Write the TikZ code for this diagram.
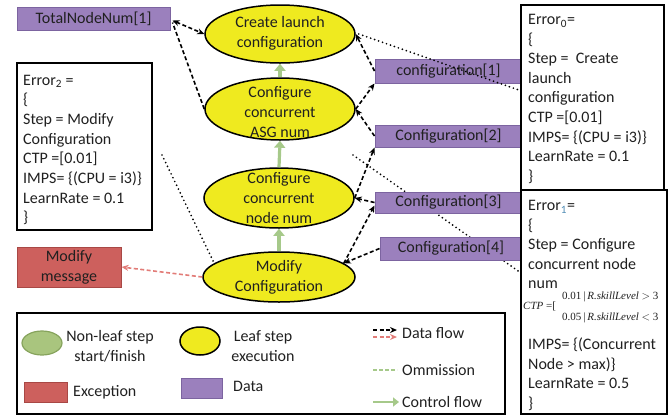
\documentclass[tikz,border=0pt]{standalone}
\usepackage{fontspec}
\setmainfont{Carlito}
\newfontfamily\formulafont{Liberation Serif}
\usetikzlibrary{arrows.meta,shapes.geometric,calc}

\definecolor{datafill}{HTML}{9B80BD}
\definecolor{dataedge}{HTML}{7C64A0}
\definecolor{excfill}{HTML}{CD605D}
\definecolor{excedge}{HTML}{A84845}
\definecolor{leaffill}{HTML}{EFEA1F}
\definecolor{startfill}{HTML}{A9C57E}
\definecolor{startedge}{HTML}{86A35C}
\definecolor{ctrlgreen}{HTML}{A6C98A}
\definecolor{exflow}{HTML}{E27C78}
\definecolor{subblue}{HTML}{4F8CB5}
\definecolor{ink}{HTML}{202020}

\begin{document}
\begin{tikzpicture}[x=1pt,y=-1pt,
  font=\fontsize{16}{20}\selectfont, text=ink,
  leaf/.style={ellipse, draw=black, line width=1.5pt, fill=leaffill, inner sep=0pt},
  nonleaf/.style={ellipse, draw=startedge, line width=1.2pt, fill=startfill, inner sep=0pt},
  datbox/.style={rectangle, draw=dataedge, line width=1pt, fill=datafill, inner sep=0pt},
  excbox/.style={rectangle, draw=excedge, line width=1pt, fill=excfill, inner sep=0pt},
  infobox/.style={rectangle, draw=black, line width=1.6pt, fill=white, inner sep=0pt},
  legendbox/.style={rectangle, draw=black, line width=1.6pt, inner sep=0pt},
  infoline/.style={anchor=base west, inner sep=0pt},
  steptext/.style={align=center, inner sep=0pt},
  dataflow/.style={draw=black, line width=1.6pt, dash pattern=on 4pt off 2.5pt,
    -{Stealth[length=7pt,width=6pt]}},
  twoway/.style={draw=black, line width=1.6pt, dash pattern=on 4pt off 2.5pt,
    {Stealth[length=7pt,width=6pt]}-{Stealth[length=7pt,width=6pt]}},
  excflow/.style={draw=exflow, line width=1.6pt, dash pattern=on 4pt off 2.5pt,
    -{Stealth[length=7pt,width=6pt]}},
  ctrlflow/.style={draw=ctrlgreen, line width=3.2pt, -{Triangle[length=7pt,width=11pt]}},
  omission/.style={draw=ctrlgreen, line width=2.6pt, dash pattern=on 4pt off 2pt},
  relation/.style={draw=black, line width=1.9pt, line cap=round, dash pattern=on 0pt off 4.2pt}
]
\useasboundingbox (0,0) rectangle (670,418);

% leaf steps
\node[leaf, minimum width=150, minimum height=58] (E1) at (280,34) {};
\node[leaf, minimum width=150, minimum height=62] (E2) at (280,109) {};
\node[leaf, minimum width=150, minimum height=60] (E3) at (279,198) {};
\node[leaf, minimum width=152, minimum height=50] (E4) at (279,277) {};
\node[steptext] (T1) at ($(E1.center)+(0,-1)$) {Create launch\\configuration};
\node[steptext] (T2) at ($(E2.center)+(0,3)$) {Configure\\concurrent\\ASG num};
\node[steptext] (T3) at (E3.center) {Configure\\concurrent\\node num};
\node[steptext] (T4) at (E4.center) {Modify\\Configuration};

% control flow between steps
\draw[ctrlflow] (E2.north) -- (E1.south);
\draw[ctrlflow] (E3.north) -- (E2.south);
\draw[ctrlflow] (E4.north) -- (E3.south);

% relation running behind the data items
\coordinate (dotA) at (353,155);
\coordinate (dotB) at (521,273);
\draw[relation] (dotA) -- (dotB);

% data items
\node[datbox, minimum width=153, minimum height=23] (TNN) at (93.5,18.5) {TotalNodeNum[1]};
\node[datbox, minimum width=147, minimum height=24] (C1) at (448.5,71) {configuration[1]};
\node[datbox, minimum width=147, minimum height=22] (C2) at (448.5,136) {Configuration[2]};
\node[datbox, minimum width=147, minimum height=21] (C3) at (448.5,202.5) {Configuration[3]};
\node[datbox, minimum width=142, minimum height=23] (C4) at (451,248.5) {Configuration[4]};

% exception
\node[excbox, minimum width=104, minimum height=40, align=center] (MM) at (69,267) {Modify\\message};

% error descriptions
\node[infobox, minimum width=135, minimum height=167] (err2) at (84.5,146.5) {};
\foreach \txt [count=\i from 0] in {{Error\textsubscript{2} =}, \{, {Step = Modify}, Configuration,
    {CTP =[0.01]}, {IMPS= \{(CPU = i3)\}}, {LearnRate = 0.1}, \}}
  \node[infoline] (e2l\i) at (23,{85+19.7*\i}) {\txt};

\node[infobox, minimum width=143, minimum height=185] (err0) at (592.5,97.5) {};
\foreach \txt [count=\i from 0] in {{Error\textsubscript{0}=}, \{, {Step = \ Create}, launch, configuration,
    {CTP =[0.01]}, {IMPS= \{(CPU = i3)\}}, {LearnRate = 0.1}, \}}
  \node[infoline] (e0l\i) at (528,{24.5+19.6*\i}) {\txt};

\node[infobox, minimum width=146, minimum height=224] (err1) at (594,302) {};
\foreach \txt [count=\i from 0] in {{Error\textsubscript{\textcolor{subblue}{1}}=}, \{, {Step = Configure},
    {concurrent node}, num}
  \node[infoline] (e1l\i) at (528,{210.5+19.5*\i}) {\txt};
\node[infoline] (ctp) at (523,309)
  {\formulafont\fontsize{11}{12}\selectfont\textit{CTP} =[};
\node[infoline] (ctpa) at (562,299)
  {\formulafont\fontsize{11}{12}\selectfont 0.01\,|\,\textit{R.skillLevel} $>$ 3};
\node[infoline] (ctpb) at (562,320)
  {\formulafont\fontsize{11}{12}\selectfont 0.05\,|\,\textit{R.skillLevel} $<$ 3};
\foreach \txt [count=\i from 0] in {{IMPS= \{(Concurrent}, {Node > max)\}}, {LearnRate = 0.5}, \}}
  \node[infoline] (e1m\i) at (528,{349.5+19.5*\i}) {\txt};

% data flow
\draw[twoway] ($(TNN.east)+(2,2)$) -- (E1.west);
\draw[draw=black, line width=1.6pt, dash pattern=on 4pt off 2.5pt] (E2.west) -- ($(TNN.east)+(2,4)$);
\draw[dataflow] (C1.west) -- (E1.east);
\draw[dataflow] (E2.east) -- (C1.south west);
\draw[dataflow] (C2.west) -- (E2.east);
\draw[dataflow] (E3.east) -- (C2.south west);
\draw[dataflow] (C3.west) -- (E3.east);
\draw[dataflow] (E4.12) -- ($(C3.west)+(0,3)$);
\draw[dataflow] (C4.west) -- (E4.12);
\draw[excflow] (E4.west) -- (MM.east);

% relations between steps and their error descriptions
\draw[relation] ($(E1.east)+(3,0)$) -- ($(err0.west)+(0,-7)$);
\coordinate (dotC) at (162,155);
\draw[relation] (dotC) -- (E4.168);

% legend
\node[legendbox, minimum width=488, minimum height=101] (legend) at (261,363.5) {};
\node[nonleaf, minimum width=40, minimum height=24] (lg1) at (42,343) {};
\node[steptext] (lg1t) at (110,346.5) {Non-leaf step\\start/finish};
\node[leaf, minimum width=40, minimum height=28] (lg2) at (200,341) {};
\node[steptext] (lg2t) at (263,346.5) {Leaf step\\execution};
\node[excbox, minimum width=43, minimum height=20] (lg3) at (45.5,392) {};
\node[anchor=west, inner sep=0pt] (lg3t) at (73,392) {Exception};
\node[datbox, minimum width=41, minimum height=20] (lg4) at (201.5,388) {};
\node[anchor=west, inner sep=0pt] (lg4t) at (233,386) {Data};

\coordinate (df1a) at (373,330); \coordinate (df1b) at (397,330);
\coordinate (df2a) at (373,337); \coordinate (df2b) at (397,337);
\coordinate (oma) at (373,370);  \coordinate (omb) at (397,370);
\coordinate (cfa) at (373,402);  \coordinate (cfb) at (399,402);
\draw[dataflow] (df1a) -- (df1b);
\draw[excflow] (df2a) -- (df2b);
\draw[omission] (oma) -- (omb);
\draw[draw=ctrlgreen, line width=2.8pt, -{Triangle[length=6pt,width=9pt]}] (cfa) -- (cfb);
\node[anchor=west, inner sep=0pt] (lg5t) at (402,333) {Data flow};
\node[anchor=west, inner sep=0pt] (lg6t) at (402,370) {Ommission};
\node[anchor=west, inner sep=0pt] (lg7t) at (402,402) {Control flow};
\end{tikzpicture}
\end{document}
